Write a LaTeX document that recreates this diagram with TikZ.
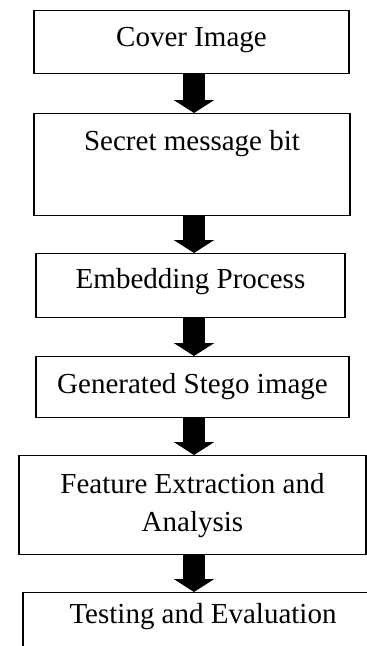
\documentclass[tikz,border=0pt]{standalone}
\usepackage{fontspec}
\setmainfont{Liberation Serif}
\usetikzlibrary{arrows.meta}

\tikzset{
  stage/.style={draw, line width=1.2pt, inner sep=0pt, anchor=north,
                font=\fontsize{29}{38}\selectfont},
  flow/.style={line width=22pt, -{Triangle[width=40pt,length=13pt]}},
}

\begin{document}
\begin{tikzpicture}[x=1pt,y=-1pt]
                    \useasboundingbox (0,0) rectangle (367,646);
                    \coordinate (axis) at (194,0);

                    \node[stage, minimum width=315pt, text height=36pt, text depth=27pt] (cover) at (191.5,10) {Cover Image};
                    \node[stage, minimum width=316pt, text height=37pt, text depth=65pt] (secret) at (192,113) {Secret message bit};
                    \node[stage, minimum width=309pt, text height=35pt, text depth=29pt] (embed) at (190.5,253) {Embedding Process};
                    \node[stage, minimum width=313pt, text height=37pt, text depth=24pt] (stego) at (192.5,356) {Generated Stego image};
                    \node[stage, minimum width=347pt, minimum height=99pt, align=center] (feature) at (192.5,455) {Feature Extraction and\\Analysis};
                    \node[stage, minimum width=360pt, text height=31pt, text depth=80pt] (testing) at (203,592) {Testing and Evaluation};

                    \draw[flow] (cover.south -| axis) -- (secret.north -| axis);
                    \draw[flow] (secret.south -| axis) -- (embed.north -| axis);
                    \draw[flow] (embed.south -| axis) -- (stego.north -| axis);
                    \draw[flow] (stego.south -| axis) -- (feature.north -| axis);
                    \draw[flow] (feature.south -| axis) -- (testing.north -| axis);
                \end{tikzpicture}
\end{document}
